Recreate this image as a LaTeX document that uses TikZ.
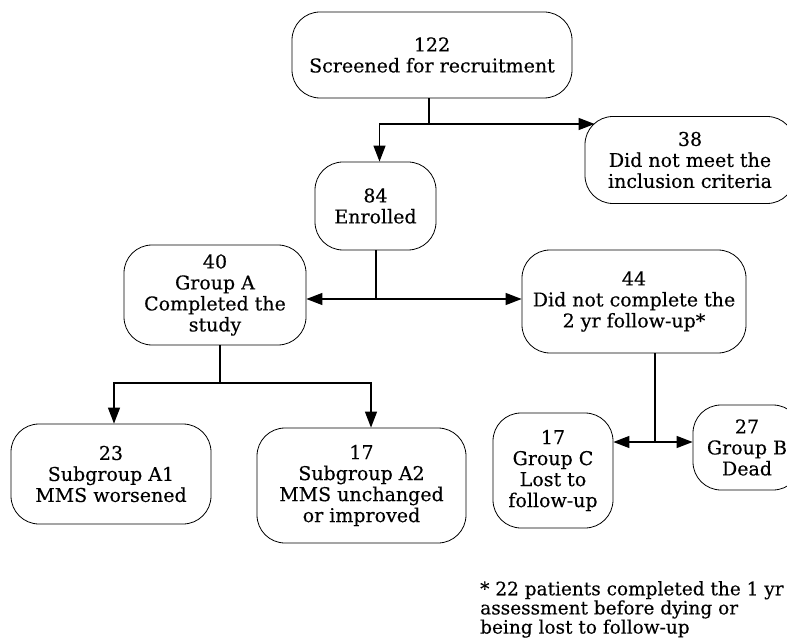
\documentclass[tikz,border=0pt]{standalone}
\usepackage{fontspec}
\setmainfont{DejaVu Serif}[FakeBold=0.3]
\usetikzlibrary{arrows.meta}

\begin{document}
\begin{tikzpicture}[x=1pt, y=-1pt,
    box/.style={draw, line width=0.8pt, rounded corners=28pt, align=center, inner sep=2pt,
      font=\fontsize{19}{21}\selectfont},
    link/.style={line width=1.3pt, -{Triangle[length=16pt, width=12pt]}},
    both/.style={line width=1.3pt, {Triangle[length=16pt, width=12pt]}-{Triangle[length=16pt, width=12pt]}}]
      \clip (0,0) rectangle (787,644);

      \node[box, minimum width=280pt, minimum height=86pt]  at (432, 55)    (scr)   {122\\Screened for recruitment};
      \node[box, minimum width=210pt, minimum height=87pt]  at (690, 160)   (excl)  {38\\Did not meet the\\inclusion criteria};
      \node[box, minimum width=121pt, minimum height=88pt]  at (375.5, 206) (enr)   {84\\Enrolled};
      \node[box, minimum width=182pt, minimum height=100pt] at (215, 295)   (grpA)  {40\\Group A\\Completed the\\study};
      \node[box, minimum width=224pt, minimum height=103pt] at (634, 301.5) (notc)  {44\\Did not complete the\\2 yr follow-up*};
      \node[box, minimum width=200pt, minimum height=100pt] at (111, 474)   (subA1) {23\\Subgroup A1\\MMS worsened};
      \node[box, minimum width=209pt, minimum height=115pt] at (361.5, 485.5) (subA2) {17\\Subgroup A2\\MMS unchanged\\or improved};
      \node[box, minimum width=120pt, minimum height=115pt] at (553, 470.5) (grpC)  {17\\Group C\\Lost to\\follow-up};
      \node[box, minimum width=108pt, minimum height=85pt]  at (747, 447.5) (grpB)  {27\\Group B\\Dead};

      \node[anchor=north west, align=left, inner sep=0pt, font=\fontsize{18.5}{17}\selectfont] at (480, 581) (note)
        {* 22 patients completed the 1 yr\\assessment before dying or\\being lost to follow-up};

      % branch points
      \coordinate (j1) at (429, 124);
      \coordinate (j2) at (376, 299);
      \coordinate (j3) at (220, 383);
      \coordinate (j4) at (655, 442);

      \draw[line width=1.3pt] (scr.south -| j1) -- (j1);
      \draw[link] (j1) -| ([xshift=4pt]enr.north);
      \draw[link] (j1) -- ([xshift=10pt]excl.west |- j1);

      \draw[line width=1.3pt] (enr.south -| j2) -- (j2);
      \draw[both] (grpA.east |- j2) -- (notc.west |- j2);

      \draw[line width=1.3pt] (grpA.south -| j3) -- (j3);
      \draw[link] (j3) -| ([xshift=3pt]subA1.north);
      \draw[link] (j3) -| ([xshift=9.5pt]subA2.north);

      \draw[line width=1.3pt] (notc.south -| j4) -- (j4);
      \draw[both] (grpC.east |- j4) -- (grpB.west |- j4);
\end{tikzpicture}
\end{document}
